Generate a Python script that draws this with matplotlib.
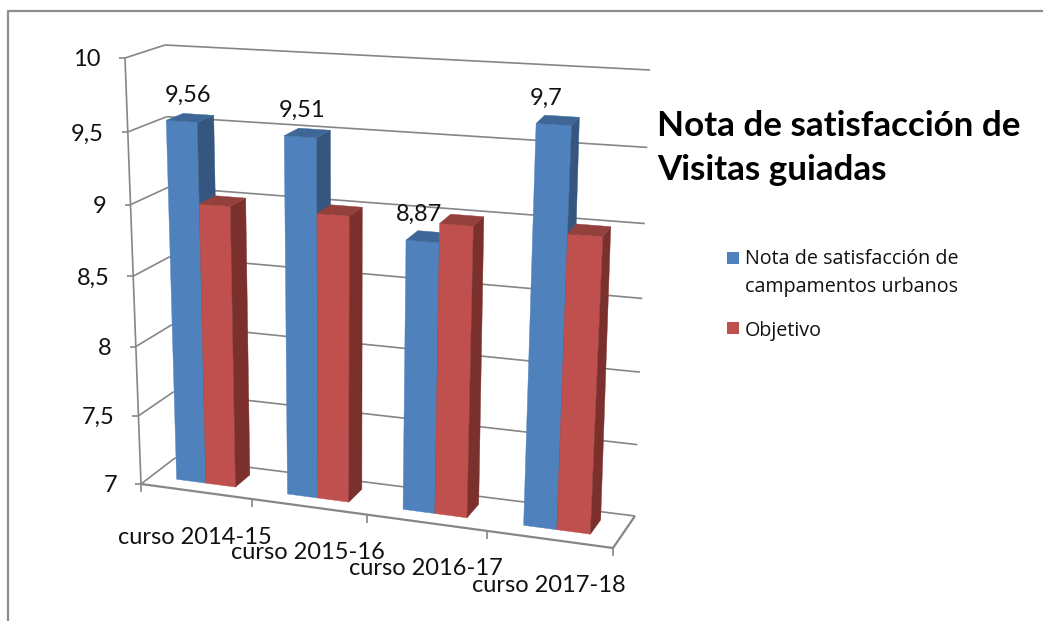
# Excel-style 3D column chart, drawn on a flat axes in pixel coordinates
import matplotlib
matplotlib.use('Agg')
import matplotlib.pyplot as plt
from matplotlib.patches import Polygon, Rectangle

plt.rcParams['font.family'] = ['Lato', 'DejaVu Sans']

# data
categories = ['curso 2014-15', 'curso 2015-16', 'curso 2016-17', 'curso 2017-18']
nota = [9.56, 9.51, 8.87, 9.7]
objetivo = [9, 9, 9, 9]
nota_labels = ['9,56', '9,51', '8,87', '9,7']
y_ticks = [7, 7.5, 8, 8.5, 9, 9.5, 10]
y_tick_labels = ['7', '7,5', '8', '8,5', '9', '9,5', '10']
legend_labels = ['Nota de satisfacción de\ncampamentos urbanos', 'Objetivo']
title = 'Nota de satisfacción de\nVisitas guiadas'

Y_MIN, Y_MAX = 7, 10

# corners of the 3D box in pixels: (left/right, front/back, bottom/top)
LFB, LFT = (141, 484), (125, 58)
LBB, LBT = (175, 458), (165, 45)
RFB, RFT = (613, 548), (637, 88)
RBB, RBT = (635, 516), (650, 70)

GRID = '#868686'
BLUE = ('#4F81BD', '#34567F', '#3E6797')   # front, side, top
RED = ('#C0504D', '#7B302E', '#94403D')
TEXT = '#111111'


def warp(t, r):
    # perspective foreshortening along one axis
    return t / (r * (1 - t) + t)


def project(u, d, v):
    # u: 0-1 along categories, d: 0 front - 1 back, v: data value
    a = warp(u, 1.088)
    h = warp((v - Y_MIN) / (Y_MAX - Y_MIN), 1.05)
    out = []
    for i in (0, 1):
        bottom_l = LFB[i] + (LBB[i] - LFB[i]) * d
        bottom_r = RFB[i] + (RBB[i] - RFB[i]) * d
        top_l = LFT[i] + (LBT[i] - LFT[i]) * d
        top_r = RFT[i] + (RBT[i] - RFT[i]) * d
        bottom = bottom_l + (bottom_r - bottom_l) * a
        top = top_l + (top_r - top_l) * a
        out.append(bottom + (top - bottom) * h)
    return out


fig = plt.figure(figsize=(10.43, 6.21), dpi=100)
ax = fig.add_axes([0, 0, 1, 1])
ax.set_xlim(0, 1043)
ax.set_ylim(621, 0)
ax.axis('off')


def line(p, q, lw=1.2):
    ax.plot([p[0], q[0]], [p[1], q[1]], color=GRID, lw=lw, solid_capstyle='butt', zorder=1)


# outer frame of the screenshot, top and left only
ax.plot([8, 8, 1043], [621, 11, 11], color='#8C8C8C', lw=1.6, zorder=1)

# walls: gridlines on left and back
for v in y_ticks:
    line(project(0, 0, v), project(0, 1, v))
    line(project(0, 1, v), project(1, 1, v))

# axis and floor
line(project(0, 0, Y_MIN), project(0, 0, Y_MAX))
line(project(0, 0, Y_MIN), project(1, 0, Y_MIN), 1.6)
line(project(1, 0, Y_MIN), project(1, 1, Y_MIN), 1.6)

# ticks and tick labels
for v, lab in zip(y_ticks, y_tick_labels):
    x, y = project(0, 0, v)
    line((x - 6, y), (x, y))
    ax.text(x - 24, y + 2, lab, ha='right', va='center', fontsize=17, color=TEXT)

n = len(categories)
for i in range(n + 1):
    x, y = project(i / n, 0, Y_MIN)
    line((x, y), (x, y + 8))

for i, cat in enumerate(categories):
    x, y = project((i + 0.5) / n, 0, Y_MIN)
    ax.text(x - 1, y + 46, cat, ha='center', va='center', fontsize=17, color=TEXT)

# bars
gap = 0.058
bar_w = (1 / n - 2 * gap) / 2
d0, d1 = 0.31, 0.76


def bar(u0, u1, v, colors, z):
    f = [project(u0, d0, Y_MIN), project(u1, d0, Y_MIN), project(u1, d0, v), project(u0, d0, v)]
    s = [project(u1, d0, Y_MIN), project(u1, d1, Y_MIN), project(u1, d1, v), project(u1, d0, v)]
    t = [project(u0, d0, v), project(u1, d0, v), project(u1, d1, v), project(u0, d1, v)]
    for pts, c in zip((f, s, t), colors):
        ax.add_patch(Polygon(pts, closed=True, facecolor=c, edgecolor=c, lw=0.3, zorder=z))


for i in range(n):
    u = i / n + gap
    bar(u, u + bar_w, nota[i], BLUE, 2 + i)
    bar(u + bar_w, u + 2 * bar_w, objetivo[i], RED, 2.5 + i)

# value labels over blue bars
for i, lab in enumerate(nota_labels):
    u = i / n + gap + bar_w / 2
    x, y = project(u, 0.5, nota[i])
    ax.text(x - 1 - 3.5 * i, y - 23, lab, ha='center', va='center', fontsize=17, color=TEXT, zorder=10)

# title
ax.text(657, 148, title, ha='left', va='center', fontsize=25.2, fontweight='bold',
        color='black', linespacing=1.5, zorder=10)

# legend
ax.add_patch(Rectangle((727, 252), 11.5, 12, facecolor=BLUE[0], zorder=10))
ax.add_patch(Rectangle((727, 322), 11.5, 12, facecolor=RED[0], zorder=10))
ax.text(745, 273, legend_labels[0], ha='left', va='center', fontsize=14.2, color=TEXT,
        family=['Open Sans', 'DejaVu Sans'], linespacing=1.55, zorder=10)
ax.text(745, 331, legend_labels[1], ha='left', va='center', fontsize=14.2, color=TEXT,
        family=['Open Sans', 'DejaVu Sans'], zorder=10)

fig.savefig('out.png', dpi=100)
